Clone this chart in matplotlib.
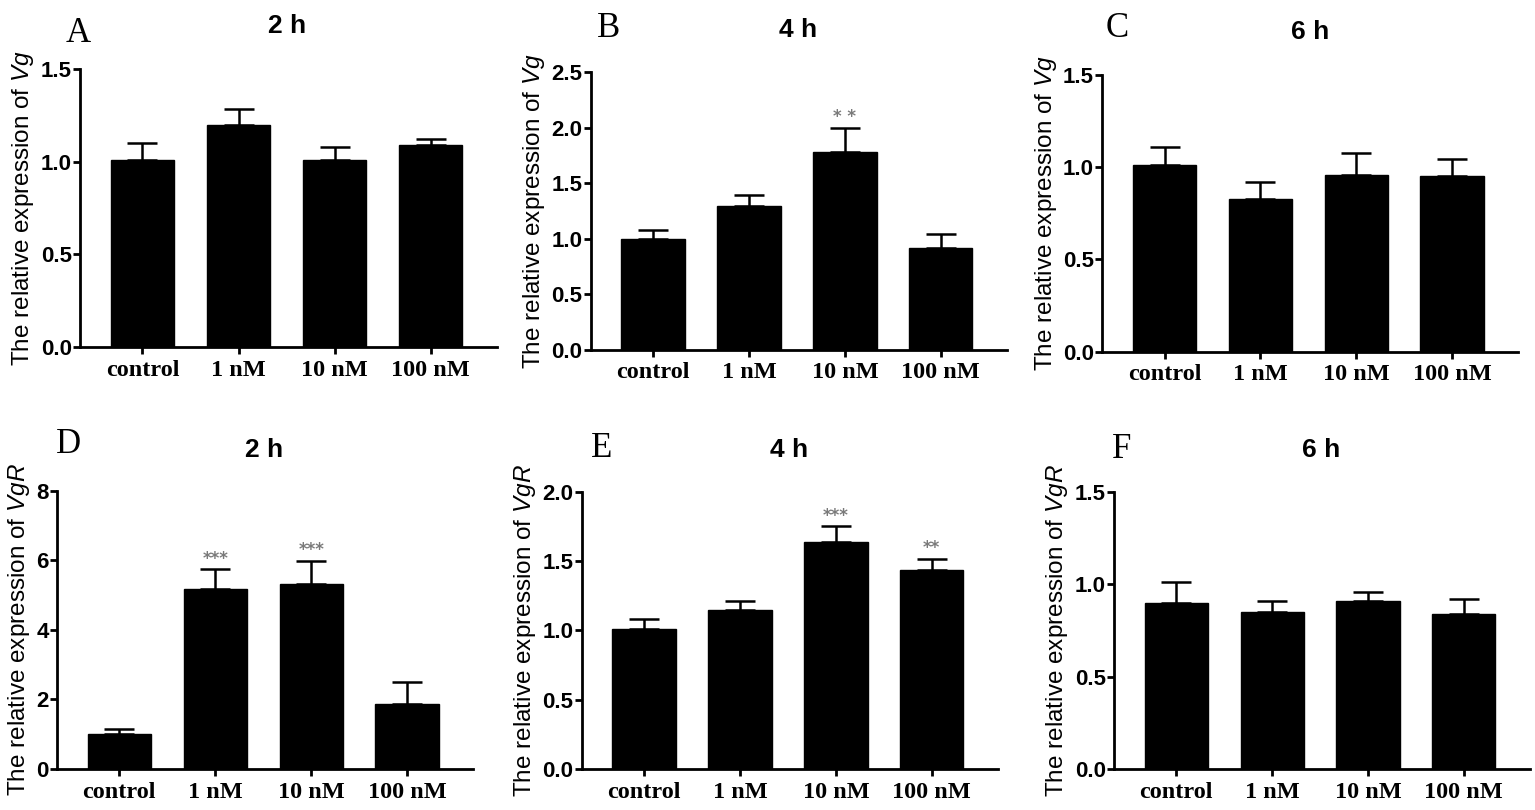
import matplotlib
matplotlib.use("Agg")
import matplotlib.pyplot as plt
import numpy as np

plt.rcParams['mathtext.fontset'] = 'custom'
plt.rcParams['mathtext.it'] = 'Liberation Sans:italic'
plt.rcParams['mathtext.rm'] = 'Liberation Sans'

categories = ['control', '1 nM', '10 nM', '100 nM']

A_vals = [1.01, 1.20, 1.01, 1.09]
A_err = [0.09, 0.085, 0.07, 0.035]
B_vals = [1.00, 1.30, 1.785, 0.92]
B_err = [0.08, 0.095, 0.215, 0.12]
C_vals = [1.012, 0.828, 0.958, 0.951]
C_err = [0.094, 0.089, 0.119, 0.09]
D_vals = [1.006, 5.17, 5.32, 1.86]
D_err = [0.13, 0.57, 0.67, 0.65]
E_vals = [1.007, 1.146, 1.639, 1.437]
E_err = [0.077, 0.065, 0.113, 0.079]
F_vals = [0.90, 0.849, 0.909, 0.838]
F_err = [0.113, 0.06, 0.047, 0.08]

A_stars = {}
B_stars = {2: '* *'}
C_stars = {}
D_stars = {1: '***', 2: '***'}
E_stars = {2: '***', 3: '**'}
F_stars = {}

titles = ['2 h', '4 h', '6 h', '2 h', '4 h', '6 h']
letters = ['A', 'B', 'C', 'D', 'E', 'F']
genes = ['Vg', 'Vg', 'Vg', 'VgR', 'VgR', 'VgR']

W, H = 1535, 810
fig = plt.figure(figsize=(W / 100, H / 100), dpi=100)

# axes boxes in pixels: left, right, top, bottom
boxes = [
    (80, 497, 69, 347),
    (590.7, 1007, 72.3, 350),
    (1102.3, 1518, 74.7, 351.7),
    (57, 473.3, 490.7, 769),
    (581.7, 998, 491.7, 769),
    (1114, 1530, 491.7, 769),
]
ylims = [1.5, 2.5, 1.5, 8, 2.0, 1.5]
ysteps = [0.5, 0.5, 0.5, 2, 0.5, 0.5]
yfmt = ['%.1f', '%.1f', '%.1f', '%d', '%.1f', '%.1f']
vals_all = [A_vals, B_vals, C_vals, D_vals, E_vals, F_vals]
errs_all = [A_err, B_err, C_err, D_err, E_err, F_err]
stars_all = [A_stars, B_stars, C_stars, D_stars, E_stars, F_stars]

# text positions (pixels)
letter_pos = [(66, 42), (597, 37), (1106, 37), (56, 453), (591, 457), (1112, 458)]
title_pos = [(287, 33), (798, 37), (1310, 39), (264, 457), (789, 457), (1321, 457)]

x = np.arange(len(categories))
for i in range(6):
    l, r, t, b = boxes[i]
    ax = fig.add_axes([l / W, 1 - b / H, (r - l) / W, (b - t) / H])
    vals = vals_all[i]
    errs = errs_all[i]
    ax.bar(x, vals, width=0.66, color='black', edgecolor='black', zorder=2)
    ax.errorbar(x, vals, yerr=[np.zeros(len(errs)), errs], fmt='none',
                ecolor='black', elinewidth=1.8, capsize=10.8, capthick=1.8, zorder=3)
    for k, s in stars_all[i].items():
        ax.annotate(s, xy=(x[k], vals[k] + errs[k]), xytext=(0, 1),
                    textcoords='offset points', ha='center', va='bottom',
                    color='#7a7a7a', fontsize=12, fontweight='bold',
                    family='DejaVu Sans')
    ax.set_xlim(-0.65, 3.69)
    ax.set_ylim(0, ylims[i])
    ticks = np.arange(0, ylims[i] + 1e-9, ysteps[i])
    ax.set_yticks(ticks)
    ax.set_yticklabels([yfmt[i] % v for v in ticks],
                       family='Liberation Sans', fontweight='bold', fontsize=16)
    ax.set_xticks(x)
    ax.set_xticklabels(categories, family='Liberation Serif', fontweight='bold', fontsize=17.5)
    for sp in ['top', 'right']:
        ax.spines[sp].set_visible(False)
    for sp in ['left', 'bottom']:
        ax.spines[sp].set_linewidth(2)
    ax.tick_params(axis='both', direction='out', length=5, width=2, color='black')
    ax.tick_params(axis='y', pad=1)
    ax.tick_params(axis='x', pad=4)
    ax.set_ylabel(r'The relative expression of $\mathit{' + genes[i] + '}$',
                  family='Liberation Sans', fontsize=17.5, labelpad=3)
    lx, ly = letter_pos[i]
    fig.text(lx / W, 1 - ly / H, letters[i], family='Liberation Serif',
             fontsize=25, ha='left', va='baseline')
    tx, ty = title_pos[i]
    fig.text(tx / W, 1 - ty / H, titles[i], family='Liberation Sans',
             fontweight='bold', fontsize=19, ha='center', va='baseline')

fig.savefig('out.png', dpi=100)
